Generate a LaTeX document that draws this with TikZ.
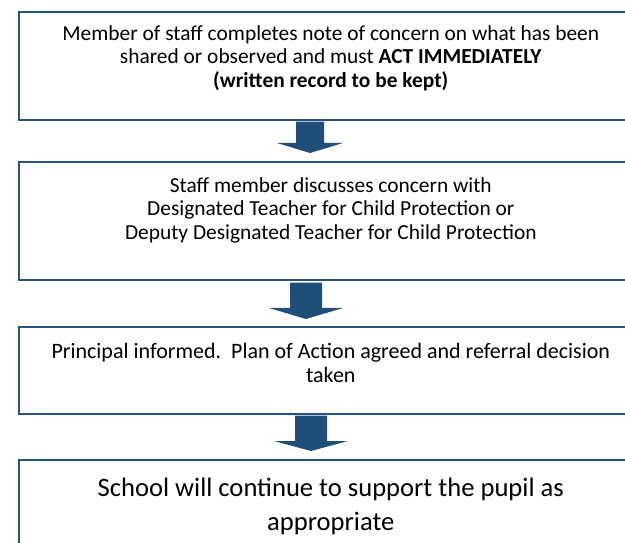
\documentclass[tikz,border=0pt]{standalone}
\usepackage{fontspec}
\setmainfont{Carlito}
\usetikzlibrary{calc}
\definecolor{boxline}{RGB}{40,82,128}
\definecolor{arrowfill}{RGB}{31,78,121}
\begin{document}
\begin{tikzpicture}[x=1pt,y=1pt,
  stepbox/.style={draw=boxline, line width=1.6pt, inner sep=0pt, anchor=north west,
    font=\fontsize{21.4}{23.6}\selectfont},
  bigbox/.style={stepbox, font=\fontsize{26.6}{34}\selectfont},
  downarrow/.style={fill=arrowfill, draw=none}
]
\useasboundingbox (0,0) rectangle (625,542);
\clip (0,0) rectangle (625,542);
\node[stepbox] (b1) at (18,531) {\parbox[c][108pt][t]{624pt}{\centering\vspace*{12pt}\strut Member of staff completes note of concern on what has been\\ shared or observed and must \textbf{ACT IMMEDIATELY}\\ \textbf{(written record to be kept)}}};
\node[stepbox] (b2) at (18,381) {\parbox[c][118pt][t]{624pt}{\centering\vspace*{14pt}\strut Staff member discusses concern with\\ Designated Teacher for Child Protection or\\ Deputy Designated Teacher for Child Protection}};
\node[stepbox, font=\fontsize{22}{24}\selectfont] (b3) at (18,216) {\parbox[c][87pt][t]{624pt}{\centering\vspace*{15pt}\strut Principal informed.\ \ Plan of Action agreed and referral decision\\ taken}};
\node[bigbox] (b4) at (18,83) {\parbox[c][110pt][t]{624pt}{\centering\vspace*{13pt}\strut School will continue to support the pupil as\\ appropriate}};
\coordinate (x1) at (310,0);
\coordinate (x2) at (306,0);
\coordinate (x3) at (311,0);
\fill[downarrow] let \p1=(b1.south -| x1), \p2=(b2.north -| x1) in
  (\x1-14,\y1-1) -- (\x1+14,\y1-1) -- (\x1+14,\y2+18) -- (\x1+33,\y2+18) -- (\x1,\y2+8) -- (\x1-33,\y2+18) -- (\x1-14,\y2+18) -- cycle;
\fill[downarrow] let \p1=(b2.south -| x2), \p2=(b3.north -| x2) in
  (\x1-16,\y1-2) -- (\x1+16,\y1-2) -- (\x1+16,\y2+18) -- (\x1+37,\y2+18) -- (\x1,\y2+7) -- (\x1-37,\y2+18) -- (\x1-16,\y2+18) -- cycle;
\fill[downarrow] let \p1=(b3.south -| x3), \p2=(b4.north -| x3) in
  (\x1-16,\y1-1) -- (\x1+16,\y1-1) -- (\x1+16,\y2+18) -- (\x1+37,\y2+18) -- (\x1,\y2+8) -- (\x1-37,\y2+18) -- (\x1-16,\y2+18) -- cycle;
\end{tikzpicture}
\end{document}
